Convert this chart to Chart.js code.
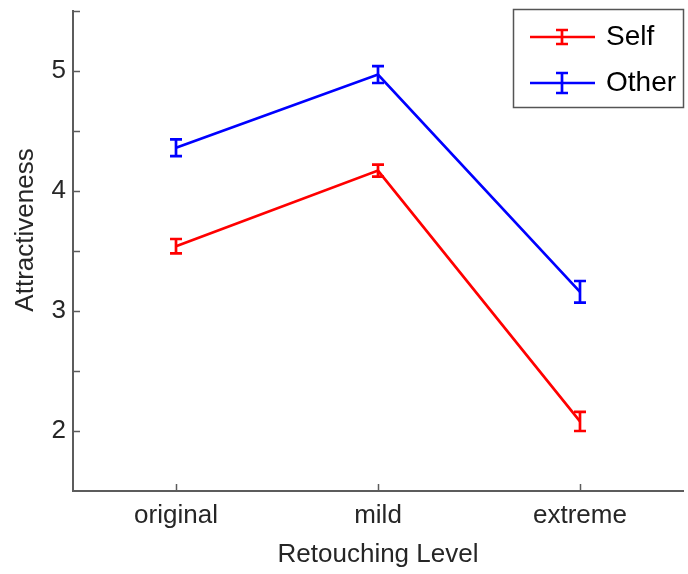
<!DOCTYPE html>
<html>
<head>
<meta charset="utf-8">
<script src="https://cdn.jsdelivr.net/npm/chart.js@4.4.0/dist/chart.umd.min.js"></script>
<style>
  html, body { margin: 0; padding: 0; background: #fff; }
  #wrap { width: 688px; height: 574px; }
</style>
</head>
<body>
<div id="wrap"><canvas id="chart"></canvas></div>
<script>
const levels = ['original', 'mild', 'extreme'];
const selfMean = [3.54, 4.17, 2.08];
const selfErr = [0.06, 0.05, 0.08];
const otherMean = [4.36, 4.97, 3.16];
const otherErr = [0.07, 0.07, 0.09];
const yTicks = [2, 2.5, 3, 3.5, 4, 4.5, 5, 5.5];

const axisColor = '#5c5c5c';
const textColor = '#262626';
const fontFam = '"Liberation Sans", Arial, sans-serif';

// error bars, inward ticks, y title and legend box
const extras = {
  id: 'extras',
  afterDatasetsDraw(chart) {
    const ctx = chart.ctx;
    const xs = chart.scales.x, ys = chart.scales.y;
    const sets = [[selfMean, selfErr, '#ff0000'], [otherMean, otherErr, '#0000ff']];
    ctx.save();
    ctx.lineWidth = 2.7;
    sets.forEach(([m, e, c]) => {
      ctx.strokeStyle = c;
      m.forEach((v, i) => {
        const x = xs.getPixelForValue(i);
        const y1 = ys.getPixelForValue(v + e[i]);
        const y2 = ys.getPixelForValue(v - e[i]);
        ctx.beginPath();
        ctx.moveTo(x, y1); ctx.lineTo(x, y2);
        ctx.moveTo(x - 6, y1); ctx.lineTo(x + 6, y1);
        ctx.moveTo(x - 6, y2); ctx.lineTo(x + 6, y2);
        ctx.stroke();
      });
    });
    ctx.restore();
  },
  afterDraw(chart) {
    const ctx = chart.ctx;
    const xs = chart.scales.x, ys = chart.scales.y;
    const a = chart.chartArea;
    ctx.save();
    ctx.strokeStyle = axisColor;
    ctx.lineWidth = 1.5;
    ctx.beginPath();
    yTicks.forEach(t => {
      const y = Math.round(ys.getPixelForValue(t)) + 0.5;
      ctx.moveTo(a.left, y); ctx.lineTo(a.left + 7, y);
    });
    levels.forEach((l, i) => {
      const x = Math.round(xs.getPixelForValue(i)) + 0.5;
      ctx.moveTo(x, a.bottom); ctx.lineTo(x, a.bottom - 7);
    });
    ctx.stroke();

    // y title
    ctx.fillStyle = textColor;
    ctx.font = '26px ' + fontFam;
    ctx.textAlign = 'center';
    ctx.textBaseline = 'middle';
    ctx.translate(26, 230);
    ctx.rotate(-Math.PI / 2);
    ctx.fillText('Attractiveness', 0, 0);
    ctx.setTransform(1, 0, 0, 1, 0, 0);

    // legend
    ctx.fillStyle = '#fff';
    ctx.fillRect(513, 9, 170, 98);
    ctx.strokeStyle = '#555';
    ctx.lineWidth = 1.5;
    ctx.strokeRect(513.5, 9.5, 170, 98);
    const items = [['Self', '#ff0000', 37, 7], ['Other', '#0000ff', 83, 10]];
    items.forEach(([txt, c, y, h]) => {
      ctx.strokeStyle = c;
      ctx.lineWidth = 2.7;
      ctx.beginPath();
      ctx.moveTo(530, y); ctx.lineTo(595, y);
      ctx.moveTo(562, y - h); ctx.lineTo(562, y + h);
      ctx.moveTo(556, y - h); ctx.lineTo(568, y - h);
      ctx.moveTo(556, y + h); ctx.lineTo(568, y + h);
      ctx.stroke();
      ctx.fillStyle = '#000';
      ctx.font = '28px ' + fontFam;
      ctx.textAlign = 'left';
      ctx.textBaseline = 'middle';
      ctx.fillText(txt, 606, y);
    });
    ctx.restore();
  }
};

new Chart(document.getElementById('chart'), {
  type: 'line',
  data: {
    datasets: [
      {
        label: 'Self',
        data: selfMean.map((v, i) => ({ x: i, y: v })),
        borderColor: '#ff0000',
        borderWidth: 2.7,
        pointRadius: 0,
        tension: 0
      },
      {
        label: 'Other',
        data: otherMean.map((v, i) => ({ x: i, y: v })),
        borderColor: '#0000ff',
        borderWidth: 2.7,
        pointRadius: 0,
        tension: 0
      }
    ]
  },
  options: {
    responsive: true,
    maintainAspectRatio: false,
    animation: false,
    layout: { padding: { top: 11, right: 5, left: 0, bottom: 0 } },
    plugins: {
      legend: { display: false },
      tooltip: { enabled: false }
    },
    scales: {
      x: {
        type: 'linear',
        min: -0.51,
        max: 2.51,
        grid: { display: false, drawTicks: false },
        border: { color: axisColor, width: 2 },
        afterBuildTicks(s) { s.ticks = levels.map((l, i) => ({ value: i })); },
        afterFit(s) { s.height = 83; s.paddingLeft = 0; s.paddingRight = 0; },
        ticks: {
          padding: 9,
          color: textColor,
          font: { family: fontFam, size: 26 },
          callback: v => levels[v]
        },
        title: {
          display: true,
          text: 'Retouching Level',
          color: textColor,
          font: { family: fontFam, size: 26 },
          padding: { top: 4 }
        }
      },
      y: {
        min: 1.5,
        max: 5.5,
        grid: { display: false, drawTicks: false },
        border: { color: axisColor, width: 2 },
        afterBuildTicks(s) { s.ticks = [2, 3, 4, 5].map(v => ({ value: v })); },
        afterFit(s) { s.width = 73; s.paddingTop = 0; s.paddingBottom = 0; },
        ticks: {
          padding: 7,
          color: textColor,
          font: { family: fontFam, size: 26 }
        }
      }
    }
  },
  plugins: [extras]
});
</script>
</body>
</html>
